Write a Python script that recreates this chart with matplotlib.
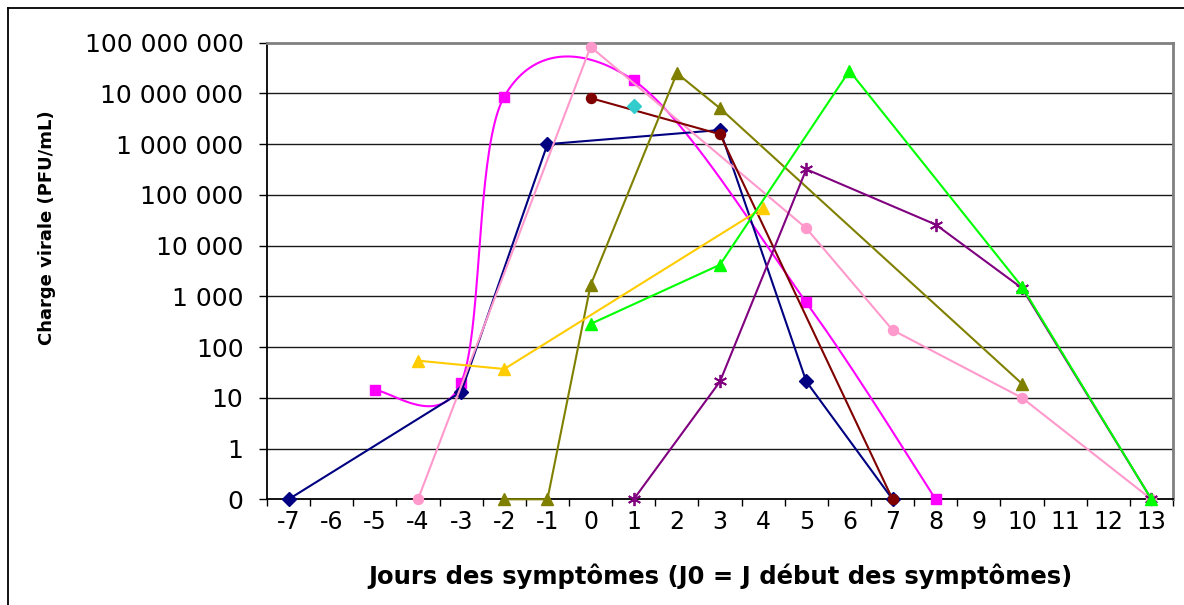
import numpy as np
import matplotlib
matplotlib.use("Agg")
import matplotlib.pyplot as plt
from matplotlib.lines import Line2D

# ---------------- data ----------------
days = list(range(-7, 14))
day_labels = [str(d) for d in days]

y_ticks = [0, 1, 10, 100, 1000, 10000, 100000, 1000000, 10000000, 100000000]
y_tick_labels = ["0", "1", "10", "100", "1 000", "10 000", "100 000",
                 "1 000 000", "10 000 000", "100 000 000"]

navy_days = [-7, -3, -1, 3, 5, 7]
navy_vals = [0, 13, 1_000_000, 1_900_000, 21, 0]

magenta_days = [-5, -3, -2, 1, 5, 8]
magenta_vals = [14, 20, 8_700_000, 18_000_000, 760, 0]

pink_days = [-4, 0, 5, 7, 10, 13]
pink_vals = [0, 83_000_000, 22_000, 217, 10, 0]

darkred_days = [0, 3, 7]
darkred_vals = [8_100_000, 1_570_000, 0]

cyan_days = [1]
cyan_vals = [5_600_000]

olive_days = [-2, -1, 0, 2, 3, 10]
olive_vals = [0, 0, 1_660, 25_000_000, 5_100_000, 19]

gold_days = [-4, -2, 4]
gold_vals = [54, 37, 56_000]

green_days = [0, 3, 6, 10, 13]
green_vals = [286, 4_200, 28_000_000, 1_550, 0]

purple_days = [1, 3, 5, 8, 10, 13]
purple_vals = [0, 21, 320_000, 26_000, 1_450, 0]

# ---------------- helpers ----------------
ZERO_POS = 0.1  # where "0" sits on the log axis


def ypos(vals):
    return [v if v > 0 else ZERO_POS for v in vals]


def smooth(xs, vals, n=40):
    X = np.array(xs, float)
    Y = np.log10(np.array(ypos(vals), float))
    P = np.column_stack([X, Y])
    out = []
    t = np.linspace(0, 1, n)[:, None]
    for i in range(len(P) - 1):
        p0 = P[i - 1] if i > 0 else P[i]
        p1, p2 = P[i], P[i + 1]
        p3 = P[i + 2] if i + 2 < len(P) else P[i + 1]
        c1 = p1 + (p2 - p0) / 6.0
        c2 = p2 - (p3 - p1) / 6.0
        seg = ((1 - t) ** 3) * p1 + 3 * ((1 - t) ** 2) * t * c1 + 3 * (1 - t) * t ** 2 * c2 + t ** 3 * p2
        out.append(seg if i == 0 else seg[1:])
    out = np.vstack(out)
    return out[:, 0], 10 ** out[:, 1]


# ---------------- figure ----------------
W, H = 1184, 605
fig = plt.figure(figsize=(W / 100, H / 100), dpi=100)
plt.rcParams['font.family'] = ['DejaVu Sans']

L, R, T, B = 267, 1173, 42.7, 499.3
ax = fig.add_axes([L / W, (H - B) / H, (R - L) / W, (B - T) / H])
ax.set_yscale('log')
ax.set_xlim(days[0] - 0.5, days[-1] + 0.5)
ax.set_ylim(ZERO_POS, y_ticks[-1])

# gridlines
for v in y_ticks[1:-1]:
    ax.axhline(v, color='#1a1a1a', lw=1.0, zorder=0.5)

lw = 1.5
# magenta smoothed
sx, sy = smooth(magenta_days, magenta_vals)
ax.plot(sx, sy, color='#FF00FF', lw=lw, zorder=2, clip_on=False)
ax.plot(magenta_days, ypos(magenta_vals), ls='none', marker='s', ms=7.2,
        color='#FF00FF', zorder=3, clip_on=False)

common = dict(lw=lw, zorder=3, clip_on=False)
ax.plot(navy_days, ypos(navy_vals), color='#000080', marker='D', ms=7, **common)
ax.plot(pink_days, ypos(pink_vals), color='#FF99CC', marker='o', ms=7.2, **common)
ax.plot(darkred_days, ypos(darkred_vals), color='#800000', marker='o', ms=7.2, **common)
ax.plot(cyan_days, ypos(cyan_vals), color='#33CCCC', marker='D', ms=7, **common)
ax.plot(olive_days, ypos(olive_vals), color='#808000', marker='^', ms=9, **common)
ax.plot(gold_days, ypos(gold_vals), color='#FFCC00', marker='^', ms=9, **common)
ax.plot(purple_days, ypos(purple_vals), color='#800080', marker=(6, 2, 0), ms=9.5,
        mew=1.3, **common)
ax.plot(green_days, ypos(green_vals), color='#00FF00', marker='^', ms=9, **common)

# y axis ticks
ax.set_yticks(ypos(y_ticks))
ax.set_yticklabels(y_tick_labels)
ax.yaxis.set_minor_locator(matplotlib.ticker.NullLocator())
ax.tick_params(axis='y', which='major', direction='out', length=6, width=1,
               color='black', pad=11, labelsize=18)

# x axis: labels at category centres, tick marks at boundaries
ax.set_xticks(days)
ax.set_xticklabels(day_labels)
ax.set_xticks([d - 0.5 for d in days] + [days[-1] + 0.5], minor=True)
ax.tick_params(axis='x', which='major', length=0, pad=8, labelsize=17)
ax.tick_params(axis='x', which='minor', direction='out', length=5, width=1, color='black')

for s in ['left', 'bottom']:
    ax.spines[s].set_color('black')
    ax.spines[s].set_linewidth(1.3)
    ax.spines[s].set_zorder(2.5)
for s in ['top', 'right']:
    ax.spines[s].set_color('#808080')
    ax.spines[s].set_linewidth(2)

ax.set_xlabel('Jours des symptômes (J0 = J début des symptômes)',
              fontsize=17.5, fontweight='bold')
ax.xaxis.set_label_coords(0.5, -0.168)
ax.xaxis.label.set_va('center')
ax.set_ylabel('Charge virale (PFU/mL)', fontsize=13, fontweight='bold')
ax.yaxis.set_label_coords((47 - L) / (R - L), (B - 228) / (B - T))
ax.yaxis.label.set_va('center')

# outer chart-area border (left and top visible)
fig.add_artist(Line2D([8 / W, 8 / W], [0, 1 - 8 / H], color='black', lw=1.3,
                      transform=fig.transFigure))
fig.add_artist(Line2D([8 / W, 1], [1 - 8 / H, 1 - 8 / H], color='black', lw=1.3,
                      transform=fig.transFigure))

fig.savefig('out.png', dpi=100)
